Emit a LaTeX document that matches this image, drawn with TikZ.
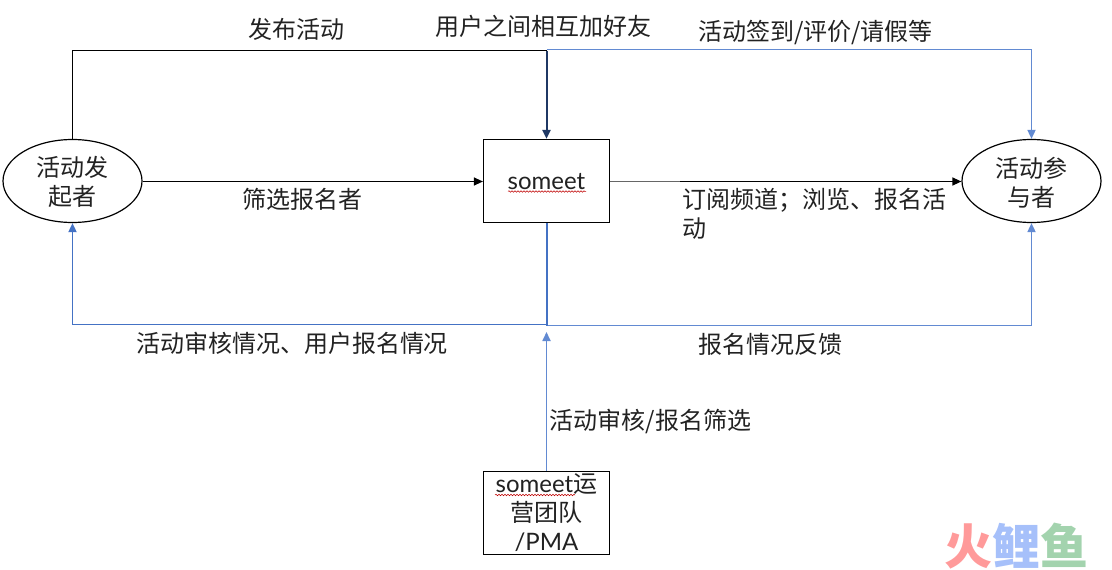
\documentclass[tikz,border=0pt]{standalone}
\usepackage{fontspec}
\setmainfont{Noto Sans CJK SC}
\newfontfamily\latf{Lato}
\usetikzlibrary{arrows.meta,shapes.geometric,decorations.pathmorphing}
\definecolor{ink}{HTML}{222222}
\definecolor{blueA}{HTML}{4472C4}
\definecolor{blueB}{HTML}{628AD2}
\definecolor{navy}{HTML}{1F3864}
\definecolor{wmR}{HTML}{FF9A9A}
\definecolor{wmB}{HTML}{A6C0FA}
\definecolor{wmG}{HTML}{A3D3AE}
\tikzset{
  lab/.style={font=\fontsize{24}{29}\selectfont, text=ink, inner sep=0pt, align=center},
  boxn/.style={lab, draw=black, line width=1.2pt, minimum width=126pt, minimum height=83pt},
  elln/.style={lab, draw=black, ellipse, line width=1.2pt, minimum width=139pt, minimum height=83pt},
  tipa/.style={-{Triangle[length=9pt,width=8pt]}},
  blk/.style={draw=black, line width=1.2pt},
  blu/.style={draw=blueB, line width=1.7pt},
  bld/.style={draw=blueA, line width=2pt},
  squig/.style={draw=red!75!black, line width=0.5pt, decorate, decoration={snake,amplitude=0.8pt,segment length=3pt}},
}
\begin{document}
\begin{tikzpicture}[x=1pt,y=-1pt]
\useasboundingbox (0,0) rectangle (1112,570);
% nodes
\node[elln] (starter) at (72.5,181) {\rule{0pt}{23pt}活动发\\起者};
\node[elln] (joiner) at (1031.5,181) {\rule{0pt}{23pt}活动参\\与者};
\node[boxn] (core) at (546.5,181) {\rule{0pt}{18pt}{\latf someet}};
\node[boxn] (ops) at (546.5,513) {{\latf someet}运\\营团队\\{\latf /PMA}};
% joints
\coordinate (topK) at (546.5,50.5);
\coordinate (topB) at (546.5,49.5);
\coordinate (botL) at (546.5,324.5);
\coordinate (botR) at (546.5,325.5);
\coordinate (opsTip) at (546.5,332);
\coordinate (midR) at (680,181.5);
% connectors
\draw[blu,tipa] (topB) -| (joiner.north);
\draw[blk] (starter.north) |- (topK);
\draw[draw=navy,line width=2pt,tipa] (topK) -- (core.north);
\draw[blk,tipa] ([yshift=-.5pt]starter.east) -- ([yshift=-.5pt]core.west);
\draw[draw=black!60,line width=1.3pt] ([yshift=-.5pt]core.east) -- (midR);
\draw[blk,tipa] (midR) -- ([yshift=-.5pt]joiner.west);
\draw[blu,draw=blueA,tipa] (botL) -| (starter.south);
\draw[blu,tipa] (botR) -| (joiner.south);
\draw[bld] (core.south) -- (botR);
\draw[blu,tipa] (ops.north) -- (opsTip);
% labels
\node[lab] (l1) at (296,29) {发布活动};
\node[lab] (l2) at (543,26) {用户之间相互加好友};
\node[lab] (l3) at (815.5,33) {活动签到/评价/请假等};
\node[lab] (l4) at (302,199.5) {筛选报名者};
\node[lab,anchor=west] (l5) at (682,200) {订阅频道；浏览、报名活};
\node[lab,anchor=west] (l6) at (682,229) {动};
\node[lab] (l7) at (292,343) {活动审核情况、用户报名情况};
\node[lab] (l8) at (770,344) {报名情况反馈};
\node[lab] (l9) at (650.5,421) {活动审核/报名筛选};
% spell-check squiggles
\coordinate (s1a) at (508,191.5); \coordinate (s1b) at (586,191.5);
\coordinate (s2a) at (495,495); \coordinate (s2b) at (575,495);
\draw[squig] (s1a) -- (s1b);
\draw[squig] (s2a) -- (s2b);
% watermark
\node[inner sep=0pt,font=\fontsize{48}{48}\selectfont\bfseries] (wm) at (1016.5,546) {\textcolor{wmR}{火}\textcolor{wmB}{鲤}\textcolor{wmG}{鱼}};
\end{tikzpicture}
\end{document}
